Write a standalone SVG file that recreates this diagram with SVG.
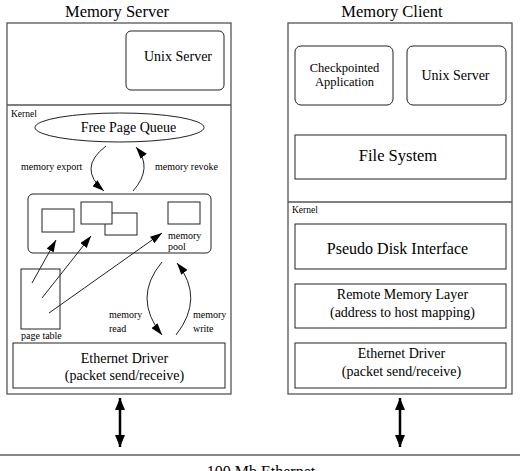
<svg xmlns="http://www.w3.org/2000/svg" width="520" height="471" viewBox="0 0 520 471" font-family="'Liberation Serif', 'Times New Roman', serif">
<defs>
<style>
text{font-family:'Liberation Serif','Times New Roman',serif;fill:#000}
.outer{fill:#fff;stroke:#555;stroke-width:1.3}
.box{fill:#fff;stroke:#222;stroke-width:1}
.div{stroke:#555;stroke-width:1.3}
.arc{fill:none;stroke:#222;stroke-width:1}
.c{text-anchor:middle}
.s{font-size:10px}
</style>
<marker id="ah" markerUnits="userSpaceOnUse" markerWidth="12" markerHeight="8" viewBox="0 0 12 8" refX="12" refY="4" orient="auto">
<path d="M0,0 L12,4 L0,8 z" fill="#000"/>
</marker>
<marker id="bh" markerUnits="userSpaceOnUse" markerWidth="12" markerHeight="10" viewBox="0 0 12 10" refX="12" refY="5" orient="auto">
<path d="M0,0 L12,5 L0,10 z" fill="#000"/>
</marker>
<marker id="bt" markerUnits="userSpaceOnUse" markerWidth="12" markerHeight="10" viewBox="0 0 12 10" refX="0" refY="5" orient="auto">
<path d="M12,0 L0,5 L12,10 z" fill="#000"/>
</marker>
</defs>

<text x="117" y="17" class="c" font-size="16.5">Memory Server</text>
<text x="392" y="17" class="c" font-size="16.5">Memory Client</text>

<g id="server">
<rect class="outer" x="7" y="23" width="224" height="371"/>
<line class="div" x1="7" y1="105" x2="231" y2="105"/>
<text x="11" y="117" font-size="9.5">Kernel</text>
</g>
<g id="server-unix">
<rect class="box" x="126" y="31" width="98" height="59" rx="5"/>
<text x="178" y="61" class="c" font-size="14">Unix Server</text>
</g>
<g id="free-page-queue">
<ellipse class="box" cx="119.5" cy="127.5" rx="84.5" ry="14.5"/>
<text x="128.5" y="132" class="c" font-size="14">Free Page Queue</text>
</g>
<g id="memory-pool">
<rect class="box" x="28" y="194" width="183" height="59" rx="5"/>
<rect class="box" x="42" y="209" width="32" height="23"/>
<rect class="box" x="105" y="213" width="32" height="22"/>
<rect class="box" x="81" y="202" width="31" height="22"/>
<rect class="box" x="168" y="202" width="32" height="22"/>
<text x="168" y="239" class="s">memory</text>
<text x="168" y="250" class="s">pool</text>
</g>
<g id="page-table">
<rect class="box" x="21" y="269" width="39" height="60"/>
<text x="21" y="339" class="s">page table</text>
</g>
<g id="server-ethernet">
<rect class="box" x="13" y="343" width="212" height="45"/>
<text x="124.5" y="363" class="c" font-size="14">Ethernet Driver</text>
<text x="124.5" y="380" class="c" font-size="14">(packet send/receive)</text>
</g>

<g id="client">
<rect class="outer" x="288" y="23" width="224" height="371"/>
<line class="div" x1="288" y1="202" x2="512" y2="202"/>
<text x="292" y="213" font-size="9.5">Kernel</text>
</g>
<g id="checkpointed-app">
<rect class="box" x="295" y="46" width="98" height="59" rx="6"/>
<text x="344.5" y="72" class="c" font-size="12.5">Checkpointed</text>
<text x="344.5" y="86" class="c" font-size="12.5">Application</text>
</g>
<g id="client-unix">
<rect class="box" x="407" y="46" width="99" height="59" rx="6"/>
<text x="455.5" y="80" class="c" font-size="14">Unix Server</text>
</g>
<g id="file-system">
<rect class="box" x="295" y="135" width="211" height="44"/>
<text x="398" y="161" class="c" font-size="16.5">File System</text>
</g>
<g id="pseudo-disk">
<rect class="box" x="295" y="224" width="211" height="45"/>
<text x="397.5" y="254" class="c" font-size="16">Pseudo Disk Interface</text>
</g>
<g id="remote-memory">
<rect class="box" x="295" y="284" width="211" height="44"/>
<text x="402.5" y="299" class="c" font-size="14">Remote Memory Layer</text>
<text x="402.5" y="317" class="c" font-size="14">(address to host mapping)</text>
</g>
<g id="client-ethernet">
<rect class="box" x="295" y="343" width="211" height="45"/>
<text x="401.5" y="358" class="c" font-size="14">Ethernet Driver</text>
<text x="401.5" y="376" class="c" font-size="14">(packet send/receive)</text>
</g>

<g id="network">
<line x1="0" y1="455" x2="520" y2="455" stroke="#888" stroke-width="2"/>
<text x="261" y="477" class="c" font-size="16">100 Mb Ethernet</text>
</g>

<g id="connectors">
<path class="arc" d="M106,146 Q77,168 104,191" marker-end="url(#ah)"/>
<path class="arc" d="M133,191 Q153.5,168 136,147" marker-end="url(#ah)"/>
<text x="21" y="170" class="s">memory export</text>
<text x="155" y="170" class="s">memory revoke</text>
<line class="arc" x1="32" y1="283" x2="56" y2="240" marker-end="url(#ah)"/>
<line class="arc" x1="42" y1="298" x2="91" y2="236" marker-end="url(#ah)"/>
<line class="arc" x1="49" y1="313" x2="162" y2="233" marker-end="url(#ah)"/>
<path class="arc" d="M162,262 Q132,298 162,335" marker-end="url(#ah)"/>
<path class="arc" d="M176,335 Q205,298 177,263" marker-end="url(#ah)"/>
<text x="109" y="318" class="s">memory</text>
<text x="109" y="332" class="s">read</text>
<text x="193" y="318" class="s">memory</text>
<text x="193" y="332" class="s">write</text>
<line x1="120" y1="398" x2="120" y2="447" stroke="#000" stroke-width="2.5" marker-start="url(#bt)" marker-end="url(#bh)"/>
<line x1="400" y1="398" x2="400" y2="447" stroke="#000" stroke-width="2.5" marker-start="url(#bt)" marker-end="url(#bh)"/>
</g>
</svg>
